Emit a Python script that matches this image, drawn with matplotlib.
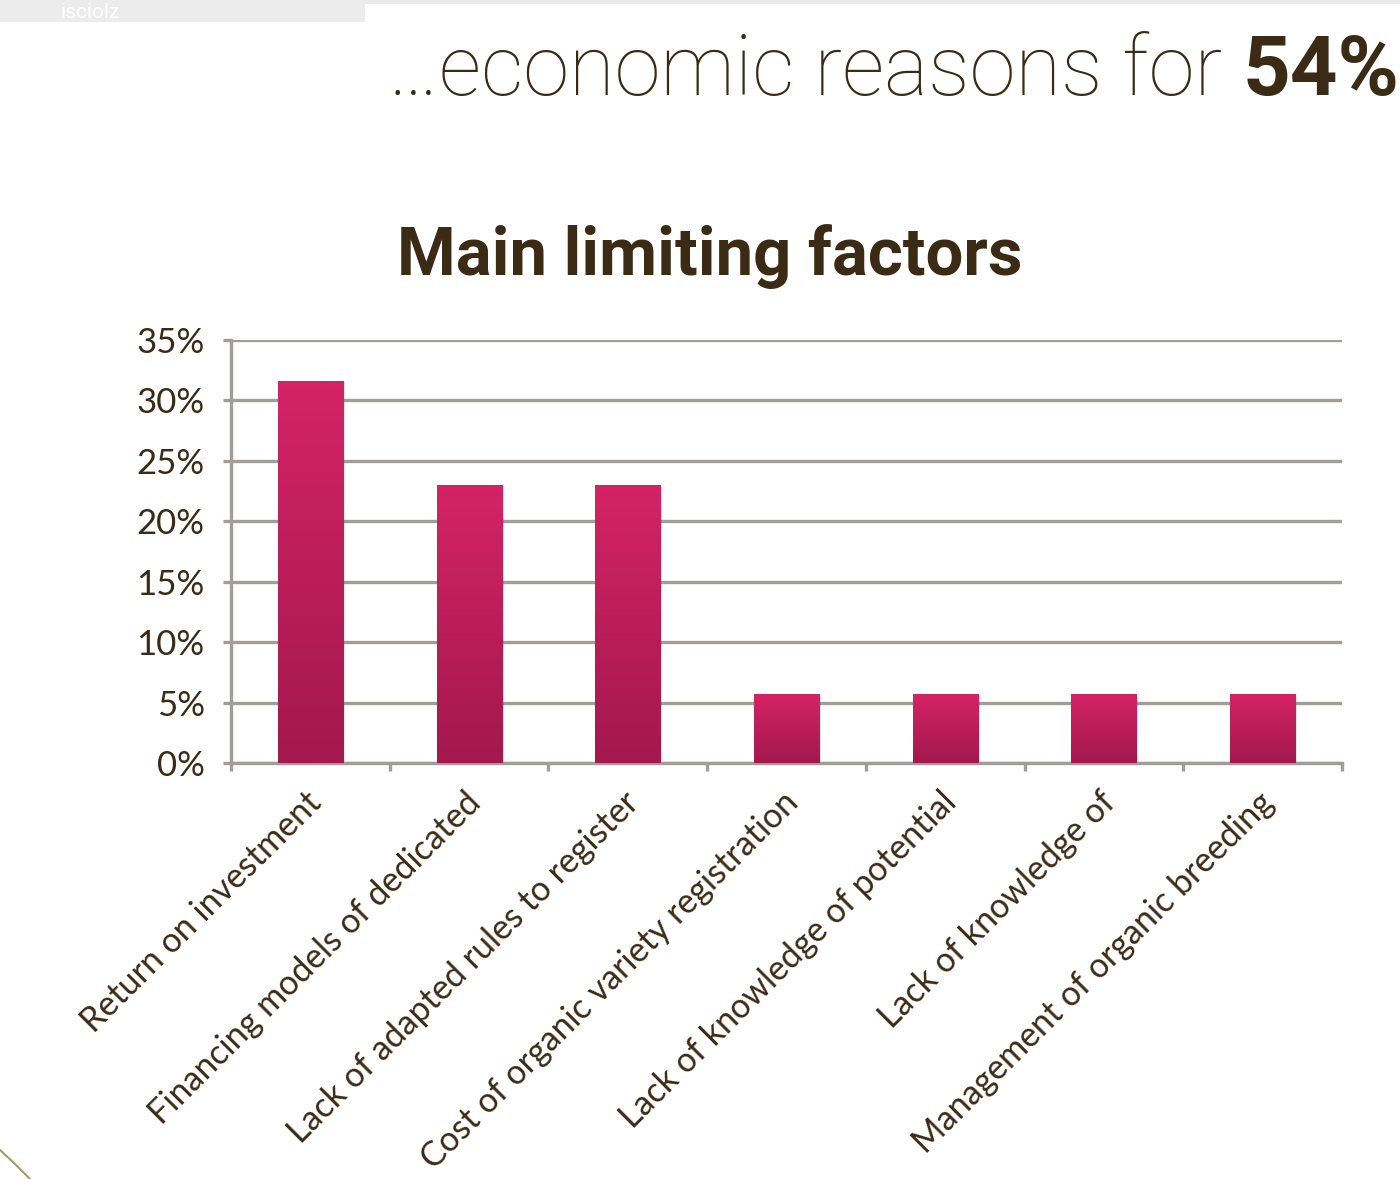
import numpy as np
import matplotlib
matplotlib.use("Agg")
import matplotlib.pyplot as plt
from matplotlib.colors import LinearSegmentedColormap
import matplotlib.transforms as mtransforms
from matplotlib.patches import Rectangle

categories = ["Return on investment",
              "Financing models of dedicated",
              "Lack of adapted rules to register",
              "Cost of organic variety registration",
              "Lack of knowledge of potential",
              "Lack of knowledge of",
              "Management of organic breeding"]
values = [0.316, 0.230, 0.230, 0.057, 0.057, 0.057, 0.057]
yticks = [0, 0.05, 0.10, 0.15, 0.20, 0.25, 0.30, 0.35]
ytick_labels = ["0%", "5%", "10%", "15%", "20%", "25%", "30%", "35%"]

TEXT = "#3B2A14"
GRID = "#A19D99"
LABEL_FONT = ["Lato", "DejaVu Sans"]
HEAD_FONT = ["Roboto", "DejaVu Sans"]
W, H = 1400, 1179
fig = plt.figure(figsize=(W / 100, H / 100), dpi=100)
fig.patch.set_facecolor("white")

ax = fig.add_axes([231 / W, 1 - 763 / H, (1342 - 231) / W, (763 - 340) / H])
x = np.arange(len(categories))
bars = ax.bar(x, values, width=0.41, color="none", zorder=3)
ax.set_xlim(-0.5, len(categories) - 0.5)
ax.set_ylim(0, 0.35)

cmap = LinearSegmentedColormap.from_list("g", ["#A3184D", "#D42366"])
grad = np.linspace(0, 1, 256).reshape(-1, 1)
for b in bars:
    x0, w, h = b.get_x(), b.get_width(), b.get_height()
    ax.add_patch(Rectangle((x0 + 0.012, 0), w, h - 0.0008, color="#000000",
                           alpha=0.10, lw=0, zorder=2.5))
    ax.imshow(grad, extent=(x0, x0 + w, 0, h), origin="lower", cmap=cmap,
              aspect="auto", zorder=3)

ax.set_yticks(yticks)
ax.set_yticklabels(ytick_labels)
ax.yaxis.grid(True, color=GRID, lw=2.4, zorder=1)
ax.set_axisbelow(True)
for s in ["top", "right"]:
    ax.spines[s].set_visible(False)
for s in ["left", "bottom"]:
    ax.spines[s].set_color(GRID)
    ax.spines[s].set_linewidth(2.4)

ax.set_xticks(np.arange(-0.5, len(categories)))
ax.set_xticklabels([])
ax.tick_params(axis="x", length=6, width=2.4, color=GRID, direction="out")
ax.tick_params(axis="y", length=6, width=2.4, color=GRID, direction="out",
               pad=13, labelsize=25, labelcolor=TEXT)
for lbl in ax.get_yticklabels():
    lbl.set_fontfamily(LABEL_FONT)

off = mtransforms.ScaledTranslation(-5 / 100, -23 / 100, fig.dpi_scale_trans)
for xi, cat in zip(x, categories):
    ax.text(xi, 0, cat, transform=ax.get_xaxis_transform() + off,
            rotation=45, ha="right", va="top", rotation_mode="anchor",
            fontsize=24.5, color=TEXT, family=LABEL_FONT)

fig.canvas.draw()
renderer = fig.canvas.get_renderer()

def fit_width(t, target_px):
    bb = t.get_window_extent(renderer)
    t.set_fontsize(t.get_fontsize() * target_px / bb.width)

# chart title
title = fig.text(710 / W, 1 - 275 / H, "Main limiting factors", ha="center",
                 va="baseline", fontsize=46, fontweight="bold", color=TEXT,
                 family=HEAD_FONT)
fit_width(title, 625)

# header
t1 = fig.text(388 / W, 1 - 95 / H, "…economic reasons for ", ha="left",
              va="baseline", fontsize=60, color=TEXT, family=HEAD_FONT,
              fontweight="light")
fit_width(t1, 855)
fig.canvas.draw()
bb = t1.get_window_extent(renderer)
fig.text(bb.x1 / W, 1 - 95 / H, "54%", ha="left", va="baseline",
         fontsize=t1.get_fontsize(), fontweight="bold", color=TEXT,
         family=HEAD_FONT)

# decorations
fig.patches.append(Rectangle((0, 1 - 22 / H), 365 / W, 22 / H,
                             transform=fig.transFigure, color="#ECECEC", lw=0))
fig.patches.append(Rectangle((365 / W, 1 - 4 / H), 1 - 365 / W, 4 / H,
                             transform=fig.transFigure, color="#EAEAEA", lw=0))
fig.text(60 / W, 1 - 18 / H, "isciolz", color="white", fontsize=15,
         family=HEAD_FONT, va="baseline")
fig.lines.append(plt.Line2D([0 / W, 14 / W, 30 / W],
                            [1 - 1150 / H, 1 - 1163 / H, 1 - 1179 / H],
                            transform=fig.transFigure, color="#A39B6E", lw=1.5))

fig.savefig("out.png", dpi=100)
